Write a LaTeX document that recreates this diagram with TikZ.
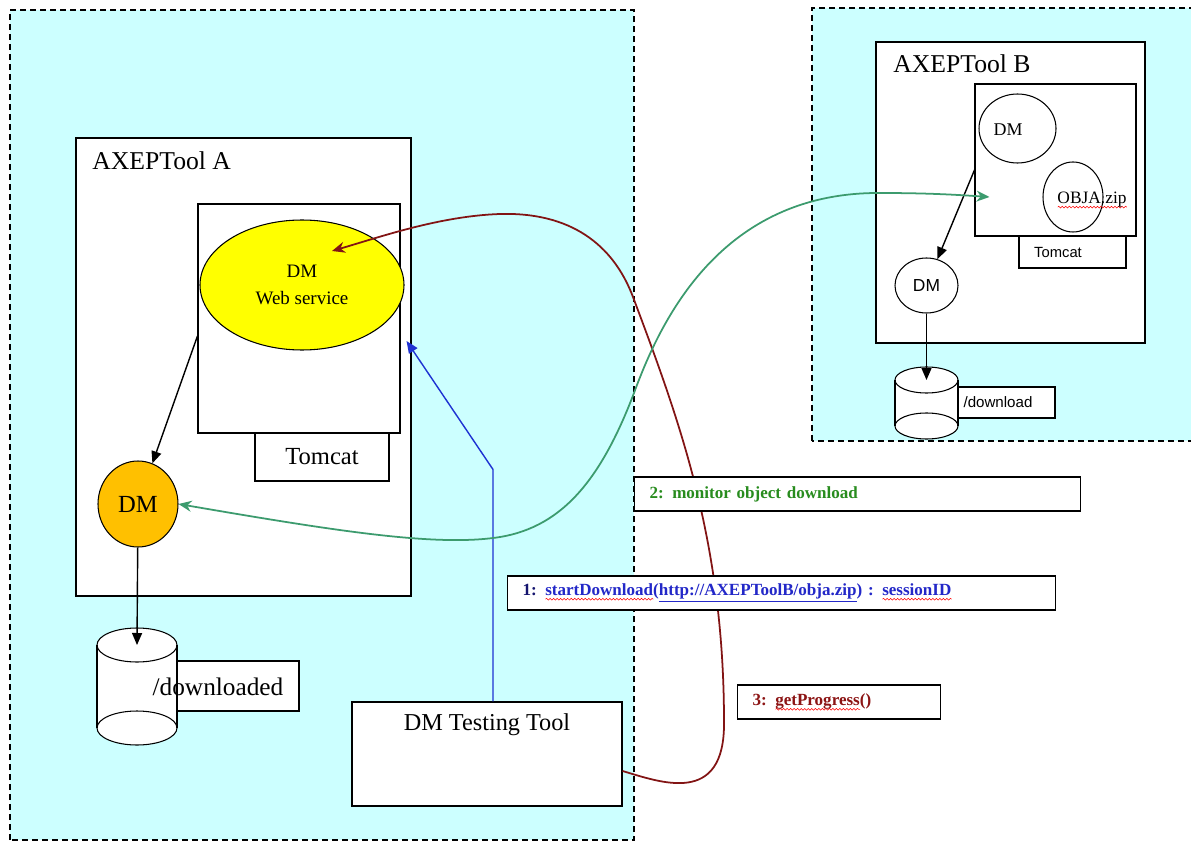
\documentclass[tikz,border=0pt]{standalone}
\usepackage{fontspec}
\setmainfont{Liberation Serif}
\setsansfont{Liberation Sans}
\usetikzlibrary{arrows.meta,calc,positioning,shapes.geometric,decorations.pathmorphing}
\definecolor{zone}{RGB}{204,255,255}
\definecolor{wsyellow}{RGB}{255,255,0}
\definecolor{dmorange}{RGB}{255,192,0}
\definecolor{msggreen}{RGB}{40,140,30}
\definecolor{msgblue}{RGB}{35,40,200}
\definecolor{msgnavy}{RGB}{20,20,110}
\definecolor{msgred}{RGB}{140,20,20}
\definecolor{linkgreen}{RGB}{60,155,110}
\definecolor{linkred}{RGB}{130,20,20}
\definecolor{linkblue}{RGB}{30,50,210}
\newcommand\fsz[1]{\fontsize{#1}{#1}\selectfont}
% red squiggle under a word
\newcommand\spellmark[1]{\setbox0\hbox{#1}\rlap{\tikz[baseline=0pt,x=1pt,y=1pt]
  \draw[red,line width=0.3pt,decorate,decoration={snake,amplitude=0.5pt,segment length=2pt}]
  (0,-2.2) -- (\the\wd0,-2.2);}\box0}
% can: x, top y, bottom y, x radius, y radius
\newcommand\drawcan[5]{%
  \fill[white] (#1-#4,#3) arc[start angle=180,end angle=360,x radius=#4,y radius=#5]
    -- (#1+#4,#2) arc[start angle=0,end angle=180,x radius=#4,y radius=#5] -- cycle;
  \draw[line width=0.6pt] (#1,#2) ellipse[x radius=#4,y radius=#5];
  \draw[line width=0.6pt] (#1,#3) ellipse[x radius=#4,y radius=#5];
  \draw[line width=0.6pt] (#1-#4,#2) -- (#1-#4,#3) (#1+#4,#2) -- (#1+#4,#3);}
\tikzset{box/.style={draw,fill=white,line width=0.6pt,inner sep=0pt},
  zonebox/.style={draw,fill=zone,line width=0.8pt,dash pattern=on 1.2mm off 0.8mm},
  oval/.style={draw,ellipse,fill=white,line width=0.6pt,inner sep=0pt},
  title/.style={anchor=base west,inner sep=0pt,font=\fsz{14.6}},
  msg/.style={box,anchor=west,minimum height=6.8mm,inner xsep=3mm,align=left,font=\bfseries\fsz{9.7}},
  arr/.style={-{Triangle[length=2.4mm,width=2mm]},line width=0.8pt},
  link/.style={line width=1pt}}

\begin{document}
\begin{tikzpicture}[x=0.2mm,y=0.2mm]
\useasboundingbox (0,0) rectangle (1191,842);
\draw[zonebox] (10,2) rectangle (634,832);
\draw[zonebox] (812,401) rectangle (1200,834);

\node[box,minimum width=67mm,minimum height=91.6mm] (toolA) at (243.5,475) {};
\node[title] (toolAname) at (92,672) {AXEPTool A};
\node[box,minimum width=40.4mm,minimum height=45.8mm] (contA) at (299,523.5) {};
\node[box,minimum width=26.8mm,minimum height=9.6mm,font=\fsz{14}] (tomcatA) at (322,385) {Tomcat};
\node[oval,fill=wsyellow,minimum width=40.8mm,minimum height=26mm,align=center,
  font=\fontsize{10.8}{15}\selectfont] (wsA) at (302,557) {DM\\Web service};
\node[oval,fill=dmorange,minimum width=16mm,minimum height=17.2mm,font=\fsz{14}] (dmA) at (138,338) {DM};
\drawcan{137}{197}{114}{40}{17}
\coordinate (cylAtop) at (137,197);
\node[box,minimum width=24.4mm,minimum height=10mm] (dlA) at (238,156) {};
\node[font=\fsz{14.4}] (dlAname) at (218,155) {/downloaded};
\node[box,minimum width=54mm,minimum height=20.8mm] (tester) at (487,88) {};
\node[font=\fsz{13.8},below=1.2mm of tester.north] (testerName) {DM Testing Tool};

\node[box,minimum width=53.8mm,minimum height=60.2mm] (toolB) at (1010.5,649.5) {};
\node[title] (toolBname) at (893,769) {AXEPTool B};
\node[box,minimum width=32.2mm,minimum height=30.4mm] (contB) at (1055.5,682) {};
\node[box,minimum width=21.4mm,minimum height=6.4mm] (tomcatB) at (1072.5,590) {};
\node[font=\sffamily\fsz{8.4}] (tomcatBname) at (1058,590) {Tomcat};
\node[oval,minimum width=15.4mm,minimum height=13.8mm] (dmB) at (1017.5,713.5) {};
\node[font=\fsz{10.2}] (dmBname) at (1008,712) {DM};
\node[oval,minimum width=12mm,minimum height=14mm] (obja) at (1073,645) {};
\node[font=\fsz{9.9}] (objaName) at (1092,642) {\spellmark{OBJA.zip}};
\node[oval,minimum width=12.6mm,minimum height=11mm,font=\sffamily\fsz{9.9}] (dmB2) at (926.5,556.5) {DM};
\drawcan{926.5}{462}{416}{31.5}{13}
\coordinate (cylBtop) at (926.5,462);
\node[box,minimum width=19.4mm,minimum height=6.2mm] (dlB) at (1006.5,439.5) {};
\node[font=\sffamily\fsz{8.6}] (dlBname) at (998,439.5) {/download};

\draw[arr] ([yshift=-3.5mm]contA.west) -- (dmA);
\draw[arr] (dmA) -- (cylAtop);
\draw[arr] ([yshift=-2mm]contB.west) -- (dmB2);
\draw[arr] (dmB2) -- (cylBtop);
\draw[arr,linkblue] ([xshift=1.2mm]tester.north) -- ++(0,232) -- ([xshift=1.2mm,yshift=-4.5mm]contA.east);
\draw[link,linkred,-{Stealth[length=2.6mm,width=2.2mm]}] ([yshift=-3.4mm]tester.east)
  .. controls (660,60) and (725,35) .. (724,120)
  .. controls (724,300) and (680,420) .. (633,545)
  .. controls (613,598) and (570,630) .. (500,628)
  .. controls (440,626) and (380,605) .. ([xshift=6mm,yshift=6.8mm]wsA.center);
\draw[link,linkgreen,{Stealth[length=2.6mm,width=2.2mm]}-{Stealth[length=2.6mm,width=2.2mm]}] (dmA.east)
  .. controls (330,312) and (430,296) .. (493,304)
  .. controls (560,312) and (600,360) .. (634,449)
  .. controls (660,520) and (720,650) .. (880,649)
  .. controls (930,649) and (960,647) .. ([xshift=3mm,yshift=-7.4mm]contB.west);

\node[msg,text width=83.2mm] (msgMonitor) at (634,348) {\color{msggreen}2: monitor object download};
\node[msg,text width=103.6mm] (msgStart) at (507,249)
  {{\color{msgnavy}1:} {\color{msgblue}\spellmark{startDownload}(\underline{http://AXEPToolB/obja.zip}) : \spellmark{sessionID}}};
\node[msg,text width=34.6mm] (msgProgress) at (737,140) {\color{msgred}3: \spellmark{getProgress}()};
\end{tikzpicture}
\end{document}
